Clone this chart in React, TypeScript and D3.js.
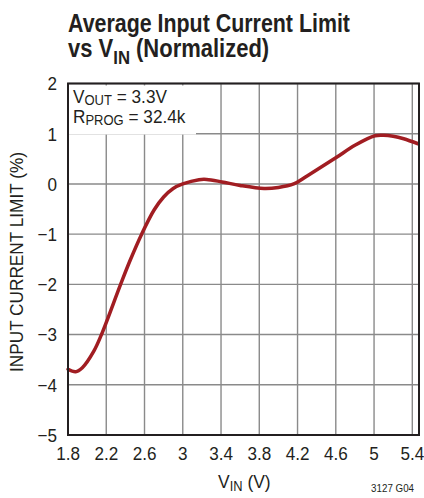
import React from "react";
import * as d3 from "d3";

const vin = [1.8, 1.88, 1.95, 2.07, 2.15, 2.35, 2.45, 2.57, 2.7, 2.8, 2.9, 3.0, 3.17, 3.25, 3.41, 3.6, 3.85, 4.0, 4.16, 4.3, 4.6, 4.8, 5.01, 5.1, 5.2, 5.31, 5.46];
const limit = [-3.69, -3.74, -3.66, -3.33, -3.0, -2.0, -1.52, -1.0, -0.52, -0.26, -0.09, 0.0, 0.085, 0.09, 0.04, -0.03, -0.09, -0.07, 0.0, 0.16, 0.52, 0.77, 0.96, 0.97, 0.95, 0.9, 0.8];
const xTicks = [1.8, 2.2, 2.6, 3, 3.4, 3.8, 4.2, 4.6, 5, 5.4];
const yTicks = [2, 1, 0, -1, -2, -3, -4, -5];

const FONT = "'Liberation Sans', Arial, sans-serif";

export default function App() {
  const left = 68, right = 419, top = 83.5, bottom = 435;
  const x = d3.scaleLinear().domain([1.8, 5.47]).range([left, right]);
  const y = d3.scaleLinear().domain([-5, 2]).range([bottom, top]);
  const pts = vin.map((v, i) => [v, limit[i]] as [number, number]);
  const line = d3.line<[number, number]>().x(d => x(d[0])).y(d => y(d[1])).curve(d3.curveCatmullRom.alpha(0.5));
  const fmtX = (v: number) => (Number.isInteger(v) ? String(v) : v.toFixed(1));
  const fmtY = (v: number) => (v < 0 ? "\u2212" + Math.abs(v) : String(v));
  const sx = 0.9;
  return (
    <svg width={424} height={498} style={{ position: "absolute", left: 0, top: 0 }} fontFamily={FONT}>
      <rect width={424} height={498} fill="#fff" />
      <text x={68} y={31.5} fontSize={25} fontWeight="bold" textLength={282} lengthAdjust="spacingAndGlyphs" fill="#231f20">Average Input Current Limit</text>
      <g transform="translate(68,57) scale(0.88,1)">
        <text x={0} y={0} fontSize={25} fontWeight="bold" fill="#231f20">
          vs V<tspan fontSize={19} dy={7}>IN</tspan><tspan dy={-7}> (Normalized)</tspan>
        </text>
      </g>
      {xTicks.map(t => (
        <line key={"gx" + t} x1={x(t)} x2={x(t)} y1={top} y2={bottom} stroke="#8a8a8a" strokeWidth={1.4} />
      ))}
      {yTicks.map(t => (
        <line key={"gy" + t} x1={left} x2={right} y1={y(t)} y2={y(t)} stroke="#8a8a8a" strokeWidth={1.4} />
      ))}
      <rect x={left + 1} y={top + 2} width={127} height={49} fill="#fff" />
      <g transform="translate(73,103) scale(0.93,1)">
        <text x={0} y={0} fontSize={18.5} fill="#231f20">V<tspan fontSize={14} dy={2}>OUT</tspan><tspan dy={-2}> = 3.3V</tspan></text>
      </g>
      <g transform="translate(73,123) scale(0.93,1)">
        <text x={0} y={0} fontSize={18.5} fill="#231f20">R<tspan fontSize={14} dy={2}>PROG</tspan><tspan dy={-2}> = 32.4k</tspan></text>
      </g>
      <path d={line(pts) || ""} fill="none" stroke="#a11d22" strokeWidth={3.5} strokeLinejoin="round" strokeLinecap="round" />
      <rect x={left} y={top} width={right - left} height={bottom - top} fill="none" stroke="#231f20" strokeWidth={2} />
      {xTicks.map(t => (
        <g key={"tx" + t} transform={`translate(${x(t)},460) scale(${sx},1)`}>
          <text x={0} y={0} fontSize={19} textAnchor="middle" fill="#231f20">{fmtX(t)}</text>
        </g>
      ))}
      {yTicks.map(t => (
        <g key={"ty" + t} transform={`translate(57,${y(t) + 6.8}) scale(${sx},1)`}>
          <text x={0} y={0} fontSize={19} textAnchor="end" fill="#231f20">{fmtY(t)}</text>
        </g>
      ))}
      <text transform="translate(23,262) rotate(-90)" fontSize={18} textAnchor="middle" textLength={220} lengthAdjust="spacingAndGlyphs" fill="#231f20">INPUT CURRENT LIMIT (%)</text>
      <g transform="translate(218,488) scale(0.92,1)">
        <text x={0} y={0} fontSize={19} fill="#231f20">V<tspan fontSize={14} dy={3}>IN</tspan><tspan dy={-3}> (V)</tspan></text>
      </g>
      <g transform="translate(414,492) scale(0.85,1)">
        <text x={0} y={0} fontSize={11.5} textAnchor="end" fill="#231f20">3127 G04</text>
      </g>
    </svg>
  );
}
